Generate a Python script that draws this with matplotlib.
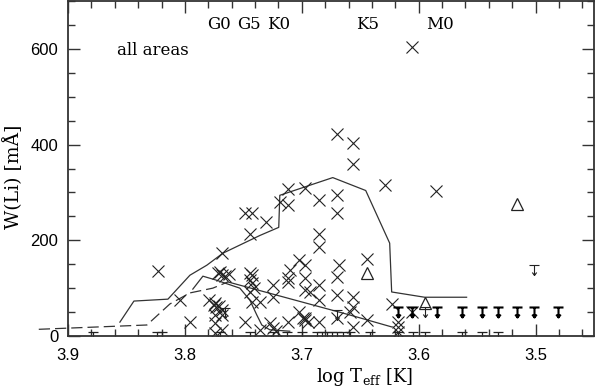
import matplotlib
matplotlib.use("Agg")
import matplotlib.pyplot as plt
from matplotlib.path import Path
from matplotlib.ticker import MultipleLocator

plt.rcParams['mathtext.fontset'] = 'dejavuserif'

# ---- data (log Teff, W(Li) in mA) ----
cross_teff = [3.606, 3.670, 3.656, 3.656, 3.629, 3.585, 3.712, 3.697, 3.719, 3.712,
              3.685, 3.670, 3.670, 3.749, 3.743, 3.731, 3.744, 3.685, 3.685, 3.644,
              3.768, 3.823, 3.772, 3.768, 3.762, 3.743, 3.743, 3.702, 3.668, 3.710,
              3.697, 3.670, 3.712, 3.697, 3.725, 3.685, 3.697, 3.744, 3.804, 3.779,
              3.774, 3.773, 3.725, 3.670, 3.656, 3.736, 3.743, 3.685, 3.693, 3.656,
              3.659, 3.702, 3.623, 3.768, 3.768, 3.697, 3.774, 3.774, 3.796, 3.749,
              3.727, 3.712, 3.697, 3.685, 3.670, 3.644, 3.736, 3.725, 3.656, 3.618,
              3.618, 3.618, 3.768, 3.774, 3.606, 3.744, 3.744, 3.712, 3.699, 3.695,
              3.775, 3.771, 3.770, 3.766, 3.741, 3.722]
cross_wli = [604, 423, 404, 360, 315, 304, 308, 310, 279, 273,
             285, 294, 256, 258, 258, 238, 213, 213, 185, 160,
             173, 135, 131, 127, 129, 127, 110, 158, 148, 138,
             148, 123, 121, 121, 106, 106, 96, 92, 75, 75,
             69, 60, 81, 85, 81, 71, 71, 75, 92, 60,
             50, 50, 67, 54, 44, 38, 44, 27, 29, 29,
             27, 29, 33, 29, 38, 33, 13, 17, 19, 29,
             19, 8, 13, 6, 50, 131, 117, 112, 37, 29,
             65, 63, 133, 125, 100, 10]

tri_teff = [3.644, 3.516, 3.595]
tri_wli = [131, 275, 68]

ul_bold_teff = [3.618, 3.606, 3.584, 3.563, 3.546, 3.532, 3.516, 3.501, 3.481]
ul_bold_wli = [60, 60, 60, 60, 60, 60, 60, 60, 60]

ul_thin_teff = [3.595, 3.501, 3.670, 3.766]
ul_thin_wli = [60, 148, 54, 58]

ul_low_teff = [3.879, 3.824, 3.820, 3.744, 3.725, 3.713, 3.700, 3.687, 3.683, 3.678,
               3.674, 3.670, 3.665, 3.659, 3.642, 3.618, 3.605, 3.595, 3.563, 3.546,
               3.532, 3.770]
ul_low_wli = [8, 8, 8, 8, 8, 8, 8, 8, 8, 8,
              8, 8, 8, 8, 8, 8, 8, 8, 8, 8,
              8, 8]

solid_teff = [3.8556, 3.8436, 3.8145, 3.7957, 3.7812, 3.7675, 3.7530, 3.7359, 3.7197,
              3.7188, 3.6735, 3.6453, 3.6248, 3.6231, 3.5949, 3.5590]
solid_wli = [29, 73, 77, 127, 148, 173, 190, 210, 227, 294, 331, 304, 194, 92, 81, 81]

dash_teff = [3.925, 3.8325, 3.8128, 3.7957, 3.7761, 3.7632]
dash_wli = [14, 23, 67, 90, 100, 113]

desc_teff = [3.7632, 3.659, 3.6231]
desc_wli = [113, 44, 19]

third_teff = [3.7932, 3.7846, 3.7735, 3.7530, 3.7444, 3.7385, 3.7342, 3.7274, 3.7103]
third_wli = [98, 125, 117, 100, 75, 44, 23, 13, 10]

sptype_labels = ["G0", "G5", "K0", "K5", "M0"]
sptype_teff = [3.771, 3.745, 3.720, 3.644, 3.582]

# ---- figure ----
fig = plt.figure(figsize=(5.96, 3.88), dpi=100)
ax = fig.add_axes([68/596, 52/388, 526/596, 335/388])
ax.set_xlim(3.9, 3.45)
ax.set_ylim(0, 700)

lc = '#333333'
ax.plot(solid_teff, solid_wli, color=lc, lw=0.9)
ax.plot(dash_teff, dash_wli, color=lc, lw=0.9, dashes=(9, 4), clip_on=False)
ax.plot(desc_teff, desc_wli, color=lc, lw=0.9)
ax.plot(third_teff, third_wli, color=lc, lw=0.9)

ax.plot(cross_teff, cross_wli, ls='none', marker='x', ms=8.5, mew=0.8, color='#222222')
ax.plot(tri_teff, tri_wli, ls='none', marker='^', ms=8, mew=0.9, mfc='none', mec='#222222')

ul_path = Path([(-0.5, 0), (0.5, 0), (0, 0), (0, -1), (-0.22, -0.7), (0, -1), (0.22, -0.7)],
               [Path.MOVETO, Path.LINETO, Path.MOVETO, Path.LINETO,
                Path.MOVETO, Path.LINETO, Path.LINETO])
ax.plot(ul_bold_teff, ul_bold_wli, ls='none', marker=ul_path, ms=14.4, mew=1.5,
        mfc='none', mec='black')
ax.plot(ul_thin_teff, ul_thin_wli, ls='none', marker=ul_path, ms=14.4, mew=0.8,
        mfc='none', mec='#222222')
ax.plot(ul_low_teff, ul_low_wli, ls='none', marker=ul_path, ms=14.4, mew=0.9,
        mfc='none', mec='#222222')

for lab, t in zip(sptype_labels, sptype_teff):
    ax.text(t, 650, lab, ha='center', va='center', fontsize=12, family='DejaVu Serif')
ax.text(3.858, 596, "all areas", ha='left', va='center', fontsize=12,
        family='DejaVu Serif')

ax.xaxis.set_major_locator(MultipleLocator(0.1))
ax.xaxis.set_minor_locator(MultipleLocator(0.02))
ax.yaxis.set_major_locator(MultipleLocator(200))
ax.yaxis.set_minor_locator(MultipleLocator(50))
ax.xaxis.set_major_formatter(plt.FuncFormatter(lambda v, p: f"{v:.1f}"))
ax.tick_params(which='both', direction='in', top=True, right=True, colors='#333333',
               labelcolor='black', width=1)
ax.tick_params(which='major', length=8.6)
ax.tick_params(which='minor', length=4.7)
ax.tick_params(axis='x', labelsize=12, pad=9)
ax.tick_params(axis='y', labelsize=12, pad=7)
for lbl in ax.get_xticklabels() + ax.get_yticklabels():
    lbl.set_family('Liberation Sans')
for s in ax.spines.values():
    s.set_linewidth(1.3)
    s.set_color('#333333')

fig.text(364/596, 1 - 377/388, r"log T$_{\mathrm{eff}}$ [K]", ha='center', va='center',
         fontsize=13, family='DejaVu Serif')
fig.text(13/596, 1 - 177/388, "W(Li) [mÅ]", ha='center', va='center', rotation=90,
         fontsize=13.5, family='DejaVu Serif')

fig.savefig("out.png", dpi=100)
